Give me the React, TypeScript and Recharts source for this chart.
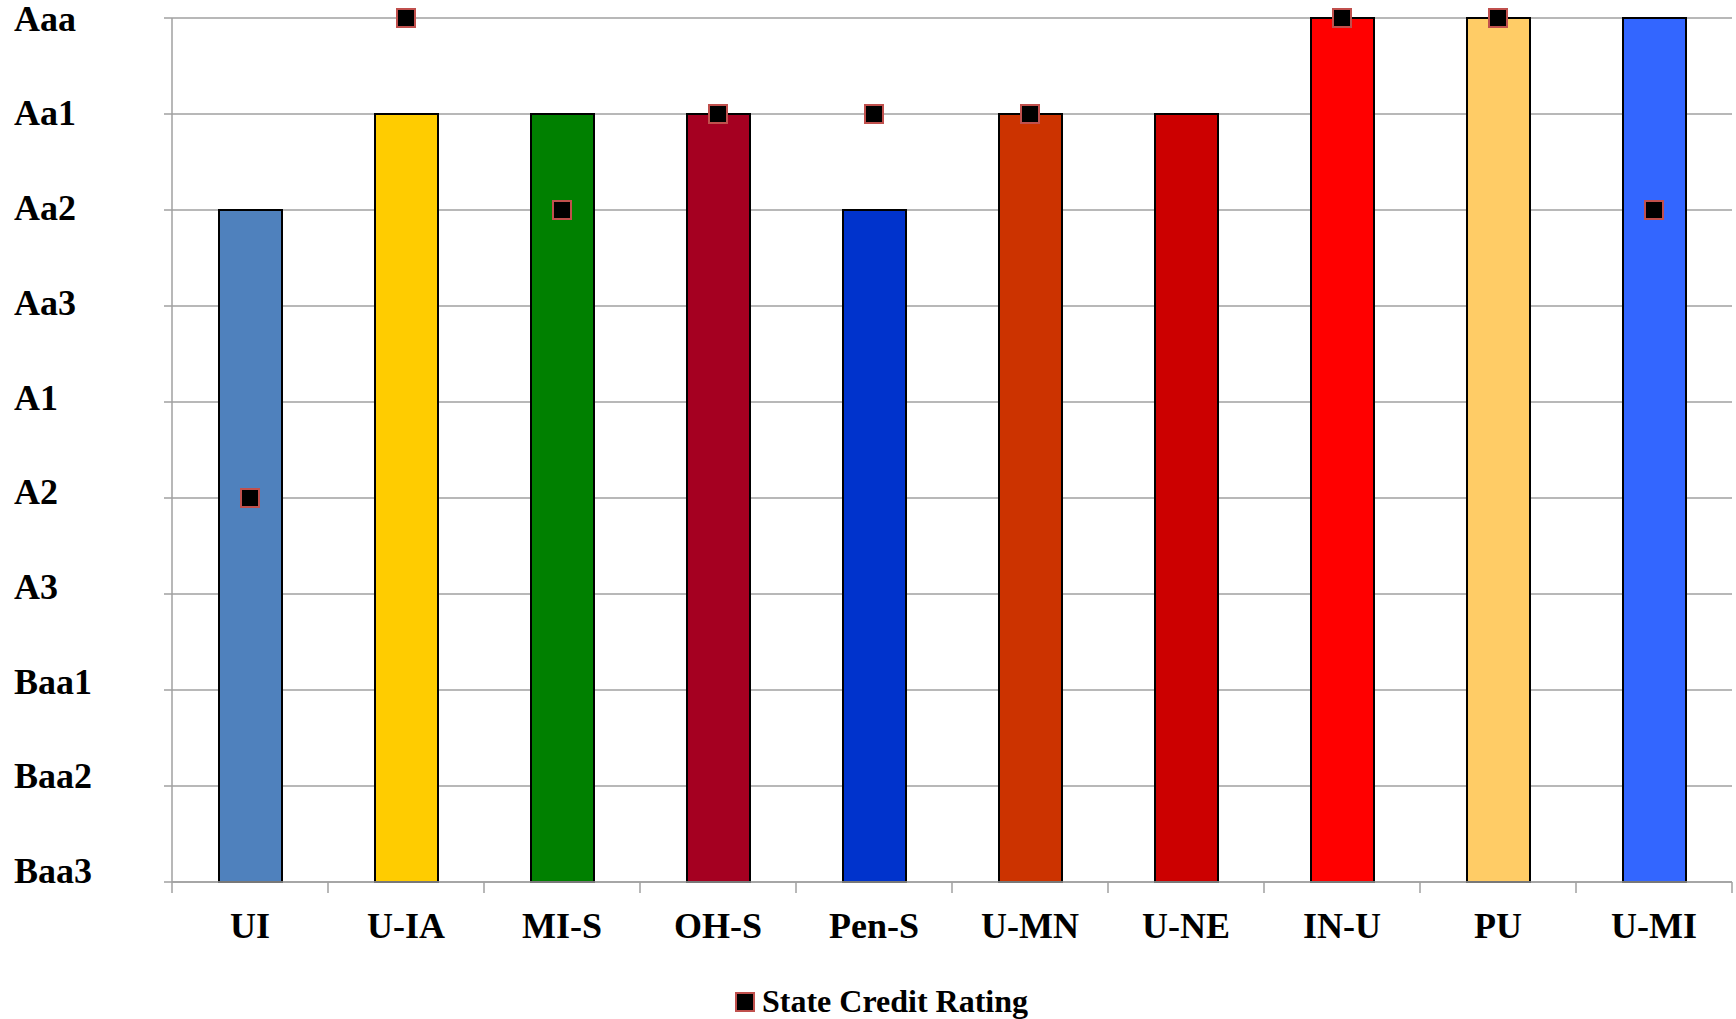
import {
  ComposedChart,
  Bar,
  Scatter,
  Cell,
  XAxis,
  YAxis,
  CartesianGrid,
  Legend,
} from 'recharts'

// ratings from low to high, index = numeric value on the y axis
const RATING_LABELS = ['Baa3', 'Baa2', 'Baa1', 'A3', 'A2', 'A1', 'Aa3', 'Aa2', 'Aa1', 'Aaa']
const RATING_TICKS = [0, 1, 2, 3, 4, 5, 6, 7, 8, 9]

const UNIVERSITIES = ['UI', 'U-IA', 'MI-S', 'OH-S', 'Pen-S', 'U-MN', 'U-NE', 'IN-U', 'PU', 'U-MI']
const UNIVERSITY_RATING = ['Aa2', 'Aa1', 'Aa1', 'Aa1', 'Aa2', 'Aa1', 'Aa1', 'Aaa', 'Aaa', 'Aaa']
const STATE_RATING: (string | null)[] = ['A2', 'Aaa', 'Aa2', 'Aa1', 'Aa1', 'Aa1', null, 'Aaa', 'Aaa', 'Aa2']
const BAR_COLORS = [
  '#4F81BD',
  '#FFCC00',
  '#008000',
  '#A50021',
  '#0033CC',
  '#CC3300',
  '#CC0000',
  '#FF0000',
  '#FFCC66',
  '#3366FF',
]

const FONT = '"Liberation Serif", "Times New Roman", Times, serif'
const GRID = '#A0A0A0'
const W = 1736
const H = 1019
const PLOT_TOP = 18
const PLOT_BOTTOM = 882

const toNum = (r: string | null) => (r == null ? null : RATING_LABELS.indexOf(r))

const data = UNIVERSITIES.map((name, i) => ({
  name,
  university: toNum(UNIVERSITY_RATING[i]),
  state: toNum(STATE_RATING[i]),
}))

function YTick(props: any) {
  const { y, payload } = props
  const v = Number(payload.value)
  // excel spaced the labels a touch tighter than the gridlines
  const dy = -11 + 1.3 * v
  return (
    <text
      x={14}
      y={y + dy}
      textAnchor="start"
      dominantBaseline="central"
      fontFamily={FONT}
      fontWeight="bold"
      fontSize={36}
      fill="#000"
    >
      {RATING_LABELS[v]}
    </text>
  )
}

function XTick(props: any) {
  const { x, payload, index, visibleTicksCount } = props
  const half = payload?.offset || 78
  const last = index === (visibleTicksCount ?? UNIVERSITIES.length) - 1
  return (
    <g>
      <line x1={x - half} y1={PLOT_BOTTOM} x2={x - half} y2={PLOT_BOTTOM + 11} stroke={GRID} strokeWidth={1.5} />
      {last && (
        <line x1={x + half} y1={PLOT_BOTTOM} x2={x + half} y2={PLOT_BOTTOM + 11} stroke={GRID} strokeWidth={1.5} />
      )}
      <text
        x={x}
        y={PLOT_BOTTOM + 56}
        textAnchor="middle"
        fontFamily={FONT}
        fontWeight="bold"
        fontSize={36}
        fill="#000"
      >
        {payload.value}
      </text>
    </g>
  )
}

function SquareMarker(props: any) {
  const { cx, cy } = props
  if (cx == null || cy == null || props.payload?.state == null) return null
  return <rect x={cx - 9} y={cy - 9} width={18} height={18} fill="#000" stroke="#C0504D" strokeWidth={2} />
}

function LegendContent() {
  return (
    <div
      style={{
        display: 'flex',
        justifyContent: 'center',
        alignItems: 'center',
        paddingLeft: 30,
        height: 57,
        transform: 'translateY(11px)',
        fontFamily: FONT,
        fontWeight: 'bold',
        fontSize: 32,
        color: '#000',
      }}
    >
      <svg width={22} height={22} style={{ marginRight: 6 }}>
        <rect x={2} y={2} width={18} height={18} fill="#000" stroke="#C0504D" strokeWidth={2} />
      </svg>
      <span>State Credit Rating</span>
    </div>
  )
}

export default function App() {
  return (
    <div style={{ position: 'absolute', left: 0, top: 0, width: W, height: H, background: '#fff' }}>
      <ComposedChart
        width={W}
        height={H}
        data={data}
        margin={{ top: PLOT_TOP, right: 4, left: 0, bottom: 0 }}
        barCategoryGap={0}
      >
        <CartesianGrid vertical={false} stroke={GRID} strokeWidth={1.5} />
        <XAxis
          dataKey="name"
          type="category"
          height={80}
          axisLine={{ stroke: GRID, strokeWidth: 1.5 }}
          tickLine={false}
          tick={<XTick />}
          interval={0}
        />
        <YAxis
          type="number"
          domain={[0, 9]}
          ticks={RATING_TICKS}
          width={172}
          axisLine={{ stroke: GRID, strokeWidth: 1.5 }}
          tickLine={{ stroke: GRID, strokeWidth: 1.5 }}
          tickSize={8}
          tick={<YTick />}
          interval={0}
        />
        <Legend
          verticalAlign="bottom"
          wrapperStyle={{ height: 57 }}
          content={<LegendContent />}
        />
        <Bar dataKey="university" barSize={63} stroke="#000" strokeWidth={2} isAnimationActive={false} legendType="none">
          {data.map((d, i) => (
            <Cell key={d.name} fill={BAR_COLORS[i]} />
          ))}
        </Bar>
        <Scatter dataKey="state" shape={<SquareMarker />} isAnimationActive={false} />
      </ComposedChart>
    </div>
  )
}
